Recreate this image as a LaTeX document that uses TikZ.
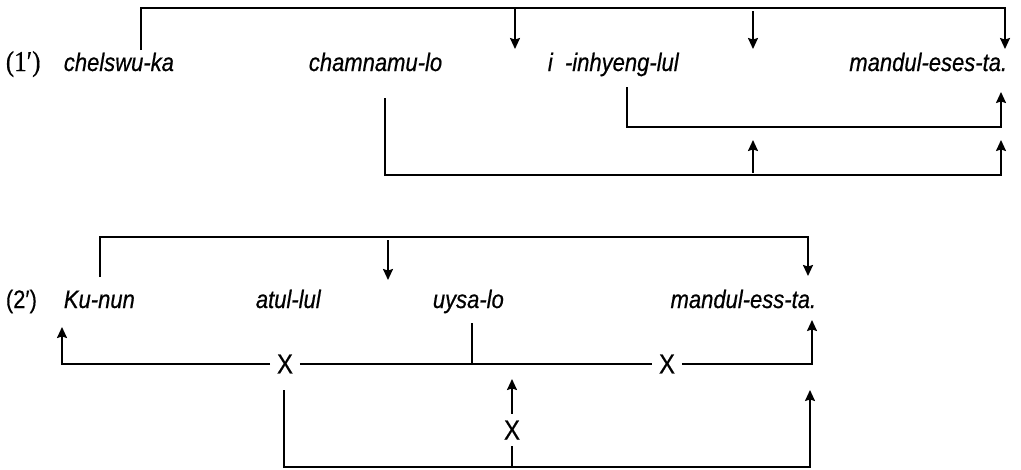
\documentclass[tikz,border=0pt]{standalone}
\usepackage{graphicx}
\usepackage{fontspec}
\setmainfont{Liberation Sans}
\newfontfamily\glossfont{Liberation Sans Italic}[FakeBold=0.6]
\newfontfamily\markfont{Liberation Sans}[FakeBold=0.4]
\newfontfamily\numserif{Liberation Serif}[FakeBold=0.5]
\usetikzlibrary{arrows.meta}

% glosses are set slightly taller than wide
\newcommand\tallset[1]{\scalebox{1}[1.15]{#1}}

\begin{document}
\begin{tikzpicture}[x=1pt,y=-1pt,
  line width=1.8pt,
  word/.style={font=\fontsize{22}{24}\glossfont, inner sep=0pt, anchor=base west},
  exnum/.style={font=\fontsize{22}{24}\markfont, inner sep=0pt, anchor=base west},
  cross/.style={font=\fontsize{24}{26}\markfont, inner sep=6pt},
  arr/.style={-{Stealth[length=11pt,width=10pt,inset=1.5pt]}}
]
\useasboundingbox (0,0) rectangle (1021,469);

% ---------- example (1') ----------
\node[exnum, font=\fontsize{25}{27}\numserif] (n1) at (5,71) {\tallset{(1′)}};
\node[word] (w11) at (63,71) {\tallset{chelswu-ka}};
\node[word] (w12) at (308,71) {\tallset{chamnamu-lo}};
\node[word] (w13) at (547,71) {\tallset{i\ \ -inhyeng-lul}};
\node[word, anchor=base east] (w14) at (1008,71) {\tallset{mandul-eses-ta.}};

% upper bracket
\coordinate (a0) at (141,50);
\coordinate (a1) at (141,8);
\coordinate (a2) at (1005,8);
\coordinate (a3) at (1005,49);
\coordinate (b0) at (515,8);
\coordinate (b1) at (515,49);
\coordinate (c0) at (753,11);
\coordinate (c1) at (753,49);
\draw[arr] (a0) -- (a1) -- (a2) -- (a3);
\draw[arr] (b0) -- (b1);
\draw[arr] (c0) -- (c1);

% middle bracket
\coordinate (d0) at (627,87);
\coordinate (d1) at (627,127);
\coordinate (d2) at (1001,127);
\coordinate (d3) at (1001,92);
\draw[arr] (d0) -- (d1) -- (d2) -- (d3);

% lower bracket
\coordinate (e0) at (385,98);
\coordinate (e1) at (385,175);
\coordinate (e2) at (1001,175);
\coordinate (e3) at (1001,140);
\coordinate (f0) at (753,173);
\coordinate (f1) at (753,140);
\draw[arr] (e0) -- (e1) -- (e2) -- (e3);
\draw[arr] (f0) -- (f1);

% ---------- example (2') ----------
\node[exnum] (n2) at (5,308) {\tallset{(2′)}};
\node[word] (w21) at (63,308) {\tallset{Ku-nun}};
\node[word] (w22) at (255,308) {\tallset{atul-lul}};
\node[word] (w23) at (432,308) {\tallset{uysa-lo}};
\node[word, anchor=base east] (w24) at (817,308) {\tallset{mandul-ess-ta.}};

% upper bracket
\coordinate (g0) at (100,277);
\coordinate (g1) at (100,237);
\coordinate (g2) at (808,237);
\coordinate (g3) at (808,276);
\coordinate (h0) at (388,240);
\coordinate (h1) at (388,280);
\draw[arr] (g0) -- (g1) -- (g2) -- (g3);
\draw[arr] (h0) -- (h1);

% middle line with blocked paths
\node[cross] (x1) at (285,364) {\tallset{X}};
\node[cross] (x2) at (667,364) {\tallset{X}};
\coordinate (k0) at (62,327);
\coordinate (k1) at (62,364);
\coordinate (k2) at (812,364);
\coordinate (k3) at (812,320);
\coordinate (m0) at (472,323);
\coordinate (m1) at (472,364);
\draw[arr] (x1.west) -- (k1) -- (k0);
\draw (x1.east) -- (x2.west);
\draw[arr] (x2.east) -- (k2) -- (k3);
\draw (m0) -- (m1);

% lower bracket
\node[cross] (x3) at (512,430) {\tallset{X}};
\coordinate (p0) at (284,390);
\coordinate (p1) at (284,467);
\coordinate (p2) at (810,467);
\coordinate (p3) at (810,390);
\coordinate (q0) at (512,467);
\coordinate (q1) at (512,379);
\draw[arr] (p0) -- (p1) -- (p2) -- (p3);
\draw (q0) -- (x3.south);
\draw[arr] (x3.north) -- (q1);
\end{tikzpicture}
\end{document}
